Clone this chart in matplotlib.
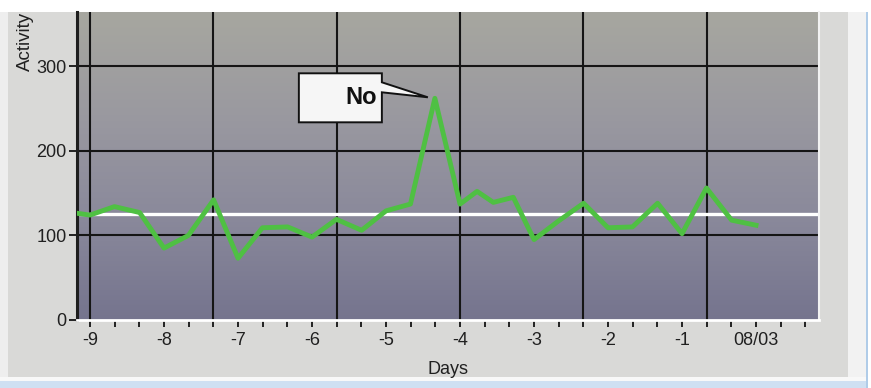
import numpy as np
import matplotlib
matplotlib.use('Agg')
import matplotlib.pyplot as plt
from matplotlib.patches import Rectangle, Polygon
from matplotlib.colors import LinearSegmentedColormap
from matplotlib.transforms import ScaledTranslation

plt.rcParams['font.family'] = ['Liberation Sans', 'DejaVu Sans']

# data (days relative to 08/03)
days = [-9.33, -9, -8.67, -8.33, -8, -7.67, -7.33, -7, -6.67, -6.33,
        -6, -5.67, -5.33, -5, -4.67, -4.34, -4, -3.77, -3.55, -3.28,
        -3, -2.67, -2.33, -2, -1.67, -1.33, -1, -0.67, -0.33, 0]
activity = [128, 124, 134, 127, 85, 100, 142, 73, 109, 110,
            98, 119, 106, 129, 137, 262, 137, 152, 139, 145,
            95, 117, 138, 109, 110, 138, 102, 156, 118, 112]
mean_level = 125
callout_text = 'No'

x_major = [-9, -8, -7, -6, -5, -4, -3, -2, -1, 0]
x_labels = ['-9', '-8', '-7', '-6', '-5', '-4', '-3', '-2', '-1', '08/03']
y_major = [0, 100, 200, 300]

W, H = 871, 388
fig = plt.figure(figsize=(W / 100, H / 100), dpi=100)
fig.patch.set_facecolor('white')


def px_rect(x0, y0, x1, y1, color):
    # rectangle given in picture pixels (top-left origin)
    r = Rectangle((x0 / W, 1 - y1 / H), (x1 - x0) / W, (y1 - y0) / H,
                  transform=fig.transFigure, fc=color, ec='none', zorder=-10)
    fig.add_artist(r)


# frame around the chart
px_rect(0, 12, 8, 380, '#eeeeee')
px_rect(8, 12, 848, 377, '#d9d9d7')
px_rect(848, 12, 866, 380, '#f2f2f2')
px_rect(866, 12, 868, 388, '#b0cce8')
px_rect(0, 377, 866, 381, '#f8f8f8')
px_rect(0, 381, 866, 388, '#cfe0f2')

ax = fig.add_axes([77 / W, 1 - 320 / H, (819 - 77) / W, (320 - 12) / H])
xmin, xmax = -9.176, 0.851
ymin, ymax = 0, 364
ax.set_xlim(xmin, xmax)
ax.set_ylim(ymin, ymax)
ax.set_facecolor('none')

# gradient background of the plot area
cmap = LinearSegmentedColormap.from_list('bg', ['#75748e', '#8a899b', '#9a99a0', '#a7a79f'])
grad = np.linspace(0, 1, 256).reshape(-1, 1)
ax.imshow(grad, cmap=cmap, extent=[xmin, xmax, ymin, ymax], aspect='auto',
          origin='lower', zorder=0, interpolation='bicubic')

# grid
for gx in np.arange(-9, 1, 5 / 3):
    ax.axvline(gx, color='#151515', lw=1.5, zorder=1)
for gy in y_major[1:]:
    ax.axhline(gy, color='#151515', lw=1.5, zorder=1)

ax.axhline(mean_level, color='white', lw=2.4, zorder=2)
ax.plot(days, activity, color='#4fc043', lw=3.5, zorder=3, solid_joinstyle='round')

# axes styling
ax.spines['top'].set_visible(False)
ax.spines['left'].set_color('#1e1e1e')
ax.spines['left'].set_linewidth(2.2)
ax.spines['bottom'].set_color('white')
ax.spines['bottom'].set_linewidth(2)
ax.spines['right'].set_color('#f2f2f2')
ax.spines['right'].set_linewidth(1.5)

ax.set_xticks(x_major)
ax.set_xticklabels(x_labels)
ax.set_xticks(np.arange(-9, 0.9, 1 / 3), minor=True)
ax.set_yticks(y_major)
ax.tick_params(axis='x', which='both', direction='out', length=5, width=1.4,
               color='#222222', pad=3.5, labelsize=13, labelcolor='#202020')
ax.tick_params(axis='y', direction='out', length=6, width=1.4, color='#222222',
               pad=1.5, labelsize=13, labelcolor='#202020')

fig.text(25 / W, 1 - 41 / H, 'Activity', rotation=90, ha='center', va='center',
         fontsize=13.5, color='#202020')
fig.text(448 / W, 1 - 369 / H, 'Days', ha='center', va='center',
         fontsize=13, color='#202020')

# callout pointing at the peak
pk = int(np.argmax(activity))
anchor = fig.dpi_scale_trans + ScaledTranslation(days[pk], activity[pk], ax.transData)
shape = np.array([(-136, 25), (-53, 25), (-53, 16), (-7, 1), (-53, 6),
                  (-53, -24), (-136, -24)]) / 100
ax.add_patch(Polygon(shape, closed=True, transform=anchor, fc='#f6f6f6',
                     ec='#111111', lw=1.4, zorder=5, clip_on=False))
ax.annotate(callout_text, xy=(days[pk], activity[pk]), xytext=(-58 * 0.72, 1 * 0.72),
            textcoords='offset points', ha='right', va='center', fontsize=17,
            family=['Liberation Sans Narrow', 'Liberation Sans'], fontweight='bold',
            color='#111111', zorder=6)

fig.savefig('out.png', dpi=100)
